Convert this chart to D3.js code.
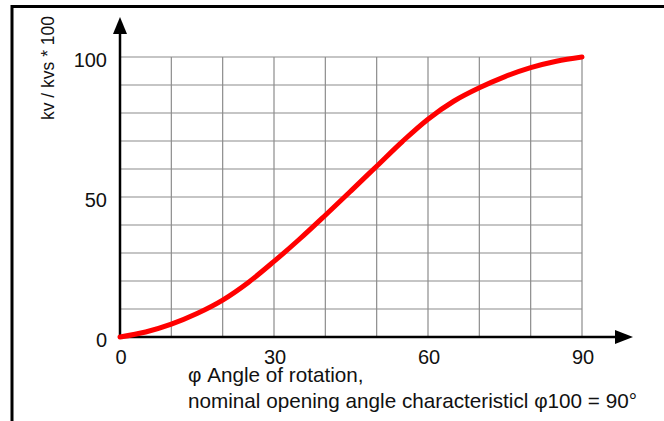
<!DOCTYPE html>
<html>
<head>
<meta charset="utf-8">
<script src="https://cdn.jsdelivr.net/npm/d3@7"></script>
<style>
    body { margin: 0; background: #fff; }
    svg { display: block; font-family: "Liberation Sans", Arial, sans-serif; }
</style>
</head>
<body>
<svg id="chart" width="664" height="421"></svg>
<script>
// valve characteristic: angle of rotation (deg) vs kv/kvs * 100
var angles = [0, 5, 10, 15, 20, 25, 30, 35, 40, 45, 50, 55, 60, 65, 70, 75, 80, 85, 90];
var kvValues = [0, 1.8, 4.6, 8.4, 13.2, 19.5, 27, 35, 43.5, 52.2, 61, 69.8, 77.8, 84.2, 89, 93, 96.2, 98.5, 100];

var xTicks = [0, 30, 60, 90];
var yTicks = [0, 50, 100];
var xGrid = [10, 20, 30, 40, 50, 60, 70, 80, 90];
var yGrid = [10, 20, 30, 40, 50, 60, 70, 80, 90, 100];

var yTitle = "kv / kvs * 100";
var xTitle = ["\u03c6 Angle of rotation,",
              "nominal opening angle characteristicl \u03c6100 = 90\u00b0"];

var svg = d3.select("#chart");

var x = d3.scaleLinear().domain([0, 90]).range([120, 582]);
var y = d3.scaleLinear().domain([0, 100]).range([337, 57]);

// frame
svg.append("path")
    .attr("d", "M12,421 L12,6.5 L664,6.5")
    .attr("fill", "none")
    .attr("stroke", "#000")
    .attr("stroke-width", 3);

// grid
var grid = svg.append("g").attr("stroke", "#8c8c8c").attr("stroke-width", 1.2);
grid.selectAll("line.v").data(xGrid).enter().append("line")
    .attr("class", "v")
    .attr("x1", function(d){ return x(d); })
    .attr("x2", function(d){ return x(d); })
    .attr("y1", y(0))
    .attr("y2", y(100));
grid.selectAll("line.h").data(yGrid).enter().append("line")
    .attr("class", "h")
    .attr("x1", x(0))
    .attr("x2", x(90))
    .attr("y1", function(d){ return y(d); })
    .attr("y2", function(d){ return y(d); });

// axes with arrows
svg.append("line")
    .attr("x1", x(0) - 1).attr("x2", 618)
    .attr("y1", y(0)).attr("y2", y(0))
    .attr("stroke", "#000").attr("stroke-width", 2.5);
svg.append("path")
    .attr("d", "M633," + y(0) + " L615," + (y(0) - 7) + " L615," + (y(0) + 7) + " Z")
    .attr("fill", "#000");
svg.append("line")
    .attr("x1", x(0)).attr("x2", x(0))
    .attr("y1", y(0) + 1).attr("y2", 32)
    .attr("stroke", "#000").attr("stroke-width", 2.5);
svg.append("path")
    .attr("d", "M" + x(0) + ",17 L" + (x(0) - 7) + ",34 L" + (x(0) + 7) + ",34 Z")
    .attr("fill", "#000");

// tick labels
svg.selectAll("text.xt").data(xTicks).enter().append("text")
    .attr("class", "xt")
    .attr("x", function(d){ return x(d) + 1; })
    .attr("y", 364)
    .attr("text-anchor", "middle")
    .attr("font-size", 20)
    .attr("fill", "#111")
    .text(function(d){ return d; });
svg.selectAll("text.yt").data(yTicks).enter().append("text")
    .attr("class", "yt")
    .attr("x", 107)
    .attr("y", function(d){ return y(d) + 10; })
    .attr("text-anchor", "end")
    .attr("font-size", 20)
    .attr("fill", "#111")
    .text(function(d){ return d; });

// titles
svg.append("text")
    .attr("transform", "translate(54,68) rotate(-90)")
    .attr("text-anchor", "middle")
    .attr("font-size", 17.5)
    .attr("fill", "#111")
    .text(yTitle);
svg.selectAll("text.xtitle").data(xTitle).enter().append("text")
    .attr("class", "xtitle")
    .attr("x", 188)
    .attr("y", function(d, i){ return 382 + i * 25.5; })
    .attr("font-size", 20.7)
    .attr("fill", "#111")
    .text(function(d){ return d; });

// curve
var line = d3.line()
    .x(function(d){ return x(d[0]); })
    .y(function(d){ return y(d[1]); })
    .curve(d3.curveCatmullRom);

svg.append("path")
    .datum(d3.zip(angles, kvValues))
    .attr("d", line)
    .attr("fill", "none")
    .attr("stroke", "#f00")
    .attr("stroke-width", 5)
    .attr("stroke-linecap", "round");
</script>
</body>
</html>
